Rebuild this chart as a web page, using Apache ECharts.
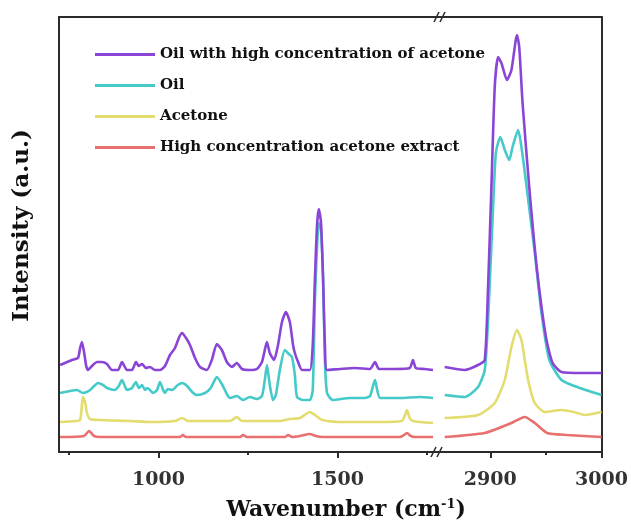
<!DOCTYPE html>
<html><head><meta charset="utf-8">
<script src="https://cdn.jsdelivr.net/npm/echarts@6/dist/echarts.min.js"></script>
<style>html,body{margin:0;padding:0;background:#fff}#c{width:631px;height:526px}</style>
</head><body><div id="c"></div><script>
// ---------- data ----------
const seriesNames = ['Oil with high concentration of acetone', 'Oil', 'Acetone', 'High concentration acetone extract'];
const seriesColors = ['#8a45d6', '#45c9c9', '#e3dc6e', '#e8706e'];
const leftRange = [722, 1781];
const rightRange = [2853, 3000];
const leftMajorTicks = [1000, 1500];
const leftMinorTicks = [750, 1250, 1750];
const rightMajorTicks = [2900, 3000];
const rightMinorTicks = [2950];
const intensityRange = [0, 435];
const xTitle = 'Wavenumber (cm';
const xTitleSup = '-1';
const yTitle = 'Intensity (a.u.)';

// [wavenumber, intensity (a.u.)]
const oilAcetoneLeft = [[725,87],[758,92],[775,94],[781,104],[786,110],[792,100],[798,86],[803,82],[814,86],[828,90],[842,90],[856,88],[870,82],[887,82],[898,90],[912,82],[926,82],[937,90],[945,86],[954,88],[965,84],[976,85],[990,82],[1004,82],[1018,86],[1032,97],[1046,104],[1058,115],[1066,119],[1077,114],[1088,107],[1102,94],[1116,85],[1135,82],[1149,92],[1163,108],[1177,102],[1191,90],[1205,85],[1219,89],[1233,83],[1255,82],[1275,83],[1289,90],[1297,102],[1303,110],[1311,99],[1323,92],[1334,107],[1345,130],[1356,140],[1367,130],[1376,107],[1381,99],[1390,90],[1401,82],[1423,82],[1431,107],[1437,172],[1443,227],[1448,243],[1454,230],[1460,172],[1465,107],[1471,82],[1507,83],[1549,84],[1591,83],[1605,90],[1616,83],[1661,83],[1702,84],[1711,92],[1719,84],[1744,83],[1767,82]];
const oilAcetoneRight = [[2859,85],[2877,82],[2889,87],[2895,92],[2898,165],[2901,265],[2904,365],[2907,395],[2910,389],[2915,372],[2919,382],[2924,417],[2926,405],[2929,349],[2935,265],[2942,182],[2950,115],[2956,89],[2964,80],[2982,79],[3000,79]];

const oilLeft = [[725,59],[753,61],[772,62],[789,59],[809,62],[831,69],[845,67],[856,64],[878,62],[889,66],[898,72],[906,66],[912,62],[926,64],[937,70],[945,64],[954,67],[962,62],[968,64],[976,62],[985,59],[996,62],[1004,70],[1013,62],[1018,59],[1026,63],[1038,62],[1054,67],[1066,69],[1080,66],[1094,60],[1107,57],[1130,59],[1146,64],[1163,75],[1177,68],[1191,58],[1200,54],[1219,56],[1236,52],[1255,55],[1275,53],[1289,56],[1297,72],[1303,87],[1311,67],[1320,52],[1328,57],[1339,82],[1353,102],[1364,98],[1373,95],[1381,77],[1387,55],[1404,52],[1423,52],[1431,62],[1437,152],[1443,205],[1448,229],[1454,222],[1460,172],[1465,92],[1471,59],[1487,52],[1535,54],[1577,54],[1591,56],[1600,67],[1605,72],[1610,64],[1619,54],[1675,54],[1730,55],[1767,54]];
const oilRight = [[2859,57],[2877,55],[2889,65],[2895,82],[2898,132],[2902,232],[2905,299],[2909,315],[2913,302],[2917,292],[2920,305],[2925,322],[2928,305],[2933,262],[2940,199],[2946,139],[2953,92],[2964,72],[2978,65],[3000,57]];

const acetoneLeft = [[725,30],[767,31],[781,32],[786,47],[789,55],[795,50],[800,39],[809,33],[837,32],[920,31],[976,30],[1046,31],[1066,34],[1082,31],[1200,31],[1219,35],[1233,31],[1339,31],[1367,33],[1395,34],[1423,40],[1437,37],[1457,32],[1507,30],[1619,30],[1680,31],[1688,36],[1694,42],[1702,34],[1711,31],[1767,29]];
const acetoneRight = [[2859,34],[2889,37],[2904,49],[2913,72],[2919,105],[2924,122],[2928,112],[2934,72],[2940,49],[2949,40],[2964,42],[2975,40],[2985,37],[3000,40]];

const extractLeft = [[725,15],[792,16],[806,21],[820,16],[837,15],[1060,15],[1068,17],[1077,15],[1228,15],[1236,17],[1247,15],[1353,15],[1362,17],[1373,15],[1395,16],[1423,18],[1440,16],[1457,15],[1675,15],[1686,17],[1694,19],[1705,16],[1716,15],[1767,15]];
const extractRight = [[2859,15],[2895,19],[2919,29],[2931,35],[2940,29],[2951,19],[2969,17],[3000,15]];

const leftData = [oilAcetoneLeft, oilLeft, acetoneLeft, extractLeft];
const rightData = [oilAcetoneRight, oilRight, acetoneRight, extractRight];

// ---------- chart ----------
const FONT = 'DejaVu Serif';
const AX = '#2b2b2b';
const G0 = {left: 59, top: 17, width: 379, height: 435};
const G1 = {left: 438, top: 17, width: 165, height: 435};

function xAxisBase(grid, range) {
  return {type: 'value', gridIndex: grid, min: range[0], max: range[1], splitLine: {show: false}};
}
function majorAxis(grid, range, ticks) {
  return Object.assign(xAxisBase(grid, range), {
    position: 'bottom',
    axisLine: {show: true, lineStyle: {color: AX, width: 2}},
    axisTick: {show: true, customValues: ticks, length: 6, lineStyle: {color: AX, width: 2}},
    axisLabel: {show: true, customValues: ticks, margin: 19, formatter: v => String(v),
      fontFamily: FONT, fontWeight: 'bold', fontSize: 19, color: '#333'}
  });
}
function minorAxis(grid, range, ticks) {
  return Object.assign(xAxisBase(grid, range), {
    position: 'bottom',
    axisLine: {show: false},
    axisTick: {show: true, customValues: ticks, length: 3, lineStyle: {color: AX, width: 2}},
    axisLabel: {show: false}
  });
}
function topAxis(grid, range) {
  return Object.assign(xAxisBase(grid, range), {
    position: 'top',
    axisLine: {show: true, lineStyle: {color: AX, width: 2}},
    axisTick: {show: false}, axisLabel: {show: false}
  });
}

const series = [];
for (let i = seriesNames.length - 1; i >= 0; i--) {
  [[leftData, 0, 0], [rightData, 3, 1]].forEach(([set, xi, yi]) => {
    series.push({
      name: seriesNames[i], type: 'line', xAxisIndex: xi, yAxisIndex: yi,
      data: set[i], showSymbol: false, smooth: 0.2,
      lineStyle: {width: 2.6, color: seriesColors[i]}, itemStyle: {color: seriesColors[i]},
      z: 10 + (seriesNames.length - i)
    });
  });
}

const chart = echarts.init(document.getElementById('c'), null, {renderer: 'canvas'});
chart.setOption({
  animation: false,
  backgroundColor: '#fff',
  grid: [G0, G1],
  xAxis: [
    majorAxis(0, leftRange, leftMajorTicks), minorAxis(0, leftRange, leftMinorTicks), topAxis(0, leftRange),
    majorAxis(1, rightRange, rightMajorTicks), minorAxis(1, rightRange, rightMinorTicks), topAxis(1, rightRange)
  ],
  yAxis: [
    {type: 'value', gridIndex: 0, min: intensityRange[0], max: intensityRange[1], position: 'left',
     axisLine: {show: true, lineStyle: {color: AX, width: 2}}, axisTick: {show: false}, axisLabel: {show: false}, splitLine: {show: false},
     name: yTitle, nameLocation: 'middle', nameRotate: 90, nameGap: 25,
     nameTextStyle: {fontFamily: FONT, fontWeight: 'bold', fontSize: 23, color: '#111', padding: [0, 0, 0, 18]}},
    {type: 'value', gridIndex: 1, min: intensityRange[0], max: intensityRange[1], position: 'right',
     axisLine: {show: true, lineStyle: {color: AX, width: 2}}, axisTick: {show: false}, axisLabel: {show: false}, splitLine: {show: false}}
  ],
  legend: {
    data: seriesNames, orient: 'vertical', left: 90, top: 40, itemGap: 12,
    itemWidth: 60, itemHeight: 3, icon: 'rect',
    textStyle: {fontFamily: FONT, fontWeight: 'bold', fontSize: 15, color: '#111', lineHeight: 19}
  },
  graphic: [
    {type: 'text', x: 346, y: 510, style: {
      text: xTitle + '{s|' + xTitleSup + '})', align: 'center', verticalAlign: 'middle',
      fontFamily: FONT, fontWeight: 'bold', fontSize: 22, fill: '#111',
      rich: {s: {fontFamily: FONT, fontWeight: 'bold', fontSize: 13, fill: '#111', verticalAlign: 'top', padding: [0,0,10,0]}}
    }},
    {type: 'line', shape: {x1: 431, y1: 457, x2: 436, y2: 447}, style: {stroke: AX, lineWidth: 1.5}, z: 100},
    {type: 'line', shape: {x1: 437, y1: 457, x2: 442, y2: 447}, style: {stroke: AX, lineWidth: 1.5}, z: 100},
    {type: 'line', shape: {x1: 434, y1: 22, x2: 439, y2: 12}, style: {stroke: AX, lineWidth: 1.5}, z: 100},
    {type: 'line', shape: {x1: 440, y1: 22, x2: 445, y2: 12}, style: {stroke: AX, lineWidth: 1.5}, z: 100}
  ],
  series: series
});
</script></body></html>
